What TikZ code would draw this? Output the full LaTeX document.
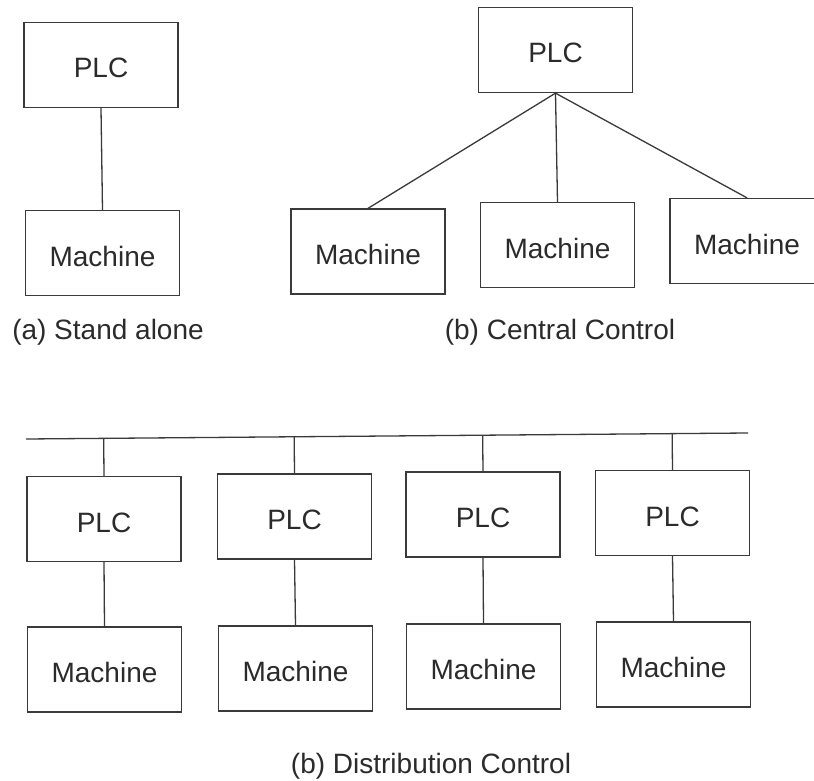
\documentclass[tikz,border=0pt]{standalone}
\usepackage{fontspec}
\setmainfont{Liberation Sans}
\usetikzlibrary{calc}
\definecolor{ink}{HTML}{2B2B2B}
\definecolor{linec}{HTML}{3A3A3A}
\tikzset{
  blk/.style={draw=linec, line width=1.3pt, minimum width=154pt, minimum height=85pt,
              inner sep=0pt, text=ink, text height=26pt, text depth=0pt,
              font=\fontsize{28}{30}\selectfont},
  conn/.style={draw=linec, line width=1.3pt},
  caption/.style={text=ink, font=\fontsize{28}{30}\selectfont, anchor=base, inner sep=0pt}
}
\begin{document}
\begin{tikzpicture}[x=1pt, y=-1pt]
\useasboundingbox (0,0) rectangle (814,781);
\clip (0,0) rectangle (814,781);
\fill[white] (0,0) rectangle (814,781);

% (a) Stand alone
\node[blk] (saplc) at (101,65) {PLC};
\node[blk] (sam) at (102.5,253) {Machine};
\draw[conn] (saplc.south) -- (sam.north);
\node[caption] (capa) at (108,339) {(a) Stand alone};

% (b) Central Control
\node[blk] (cplc) at (555.5,50) {PLC};
\node[blk] (cm1) at (368,251.5) {Machine};
\node[blk] (cm2) at (557.5,245) {Machine};
\node[blk] (cm3) at (747,241) {Machine};
\draw[conn] (cplc.south) -- (cm1.north);
\draw[conn] (cplc.south) -- (cm2.north);
\draw[conn] (cplc.south) -- (cm3.north);
\node[caption] (capb) at (560,339) {(b) Central Control};

% (b) Distribution Control
\coordinate (busL) at (26,439);
\coordinate (busR) at (748,433);
\draw[conn] (busL) -- (busR);
\node[blk] (dp1) at (104,519) {PLC};
\node[blk] (dp2) at (294.5,516.5) {PLC};
\node[blk] (dp3) at (483,514.5) {PLC};
\node[blk] (dp4) at (672.5,513) {PLC};
\node[blk] (dm1) at (104.5,669.5) {Machine};
\node[blk] (dm2) at (295.5,668.5) {Machine};
\node[blk] (dm3) at (483.5,666.5) {Machine};
\node[blk] (dm4) at (673.5,664.5) {Machine};
\foreach \i in {1,2,3,4}{
  \draw[conn] (dp\i.north) -- ($(busL)!(dp\i.north)!(busR)$);
  \draw[conn] (dp\i.south) -- (dm\i.north);
}
\node[caption] (capc) at (431,773) {(b) Distribution Control};
\end{tikzpicture}
\end{document}
